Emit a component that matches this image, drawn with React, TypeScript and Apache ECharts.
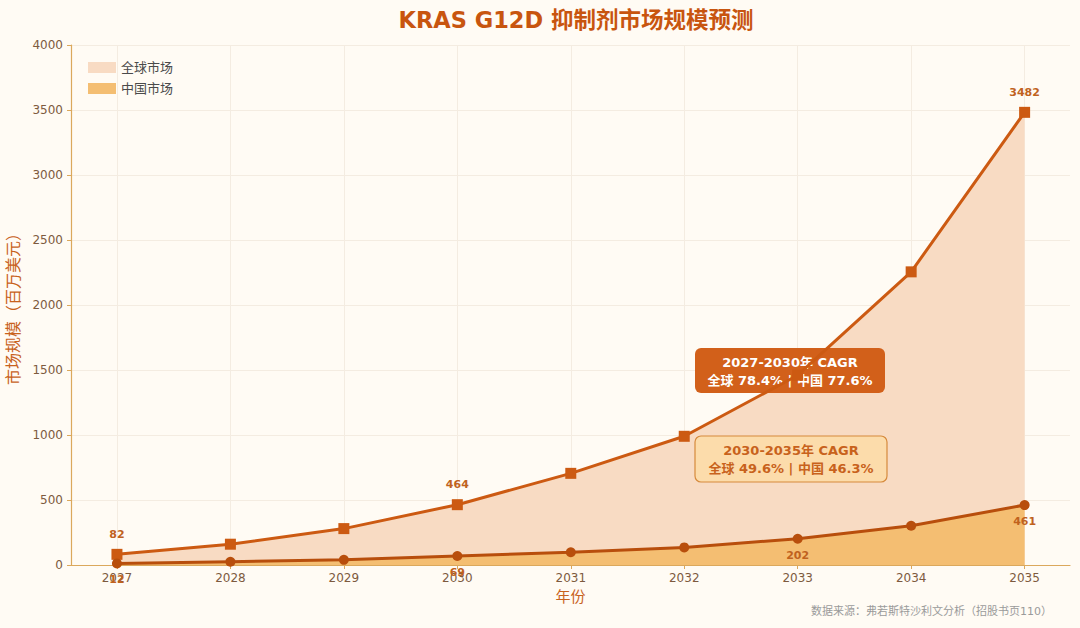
import React, { useEffect, useRef } from 'react';
import * as echarts from 'echarts';

// 年份与市场规模（百万美元）
const years = [2027, 2028, 2029, 2030, 2031, 2032, 2033, 2034, 2035];
const globalMarket = [82, 160, 280, 464, 705, 990, 1460, 2255, 3482];
const chinaMarket = [12, 25, 40, 69, 98, 135, 202, 302, 461];
const globalLabelYears = [2027, 2030, 2035];
const chinaLabelYears = [2027, 2030, 2033, 2035];

const cagrEarly = ['2027-2030年 CAGR', '全球 78.4% | 中国 77.6%'];
const cagrLate = ['2030-2035年 CAGR', '全球 49.6% | 中国 46.3%'];

const FONT = 'DejaVu Sans, "Noto Sans CJK SC", sans-serif';
const GLOBAL_LINE = '#cc5a12';
const CHINA_LINE = '#b84e0c';
const GLOBAL_FILL = '#f8dbc3';
const CHINA_FILL = '#f4be72';
const LABEL_COLOR = '#c0621e';
const TICK_COLOR = '#7d5a3e';
const AXIS_COLOR = '#dba85c';

const toPoints = (values: number[], labelled: number[], position: 'top' | 'bottom') =>
    values.map((v, i) => ({
        value: [years[i], v],
        label: {
            show: labelled.includes(years[i]),
            position,
            distance: position === 'top' ? 9 : 6,
            formatter: String(v),
            color: LABEL_COLOR,
            fontSize: 11,
            fontWeight: 'bold',
            fontFamily: FONT,
        },
    }));

const App: React.FC = () => {
    const chartRef = useRef<HTMLDivElement>(null);

    useEffect(() => {
        if (!chartRef.current) return;
        document.body.style.margin = '0';
        const chart = echarts.init(chartRef.current, undefined, { renderer: 'svg' });

        chart.setOption({
            animation: false,
            backgroundColor: '#fffbf4',
            title: {
                text: 'KRAS G12D 抑制剂市场规模预测',
                left: 571,
                textAlign: 'center',
                top: 4,
                textStyle: { color: '#c8550f', fontSize: 22.5, fontWeight: 'bold', fontFamily: FONT },
            },
            legend: {
                orient: 'vertical',
                left: 83,
                top: 56,
                icon: 'rect',
                itemWidth: 28,
                itemHeight: 11,
                itemGap: 8,
                textStyle: { color: '#4a4a4a', fontSize: 13, fontFamily: FONT },
                data: [
                    { name: '全球市场', itemStyle: { color: GLOBAL_FILL } },
                    { name: '中国市场', itemStyle: { color: CHINA_FILL } },
                ],
            },
            grid: { left: 71, right: 10, top: 45, bottom: 63, outerBoundsMode: 'none', containLabel: false },
            xAxis: {
                type: 'value',
                min: 2026.595,
                max: 2035.4,
                name: '年份',
                nameLocation: 'middle',
                nameGap: 24,
                nameTextStyle: { color: '#c8621c', fontSize: 15, fontFamily: FONT },
                axisLine: { lineStyle: { color: AXIS_COLOR, width: 1.2 } },
                axisTick: { show: true, length: 4, customValues: years, lineStyle: { color: AXIS_COLOR } },
                axisLabel: {
                    customValues: years,
                    color: TICK_COLOR,
                    fontSize: 12,
                    margin: 7,
                    fontFamily: FONT,
                    formatter: (v: number) => String(v),
                },
                splitLine: { show: true, lineStyle: { color: '#f4ece1', width: 1 } },
            },
            yAxis: {
                type: 'value',
                min: 0,
                max: 4000,
                interval: 500,
                name: '市场规模（百万美元）',
                nameLocation: 'middle',
                nameGap: 47,
                nameRotate: 90,
                nameTextStyle: { color: '#c8621c', fontSize: 16, fontFamily: FONT },
                axisLine: { show: true, lineStyle: { color: AXIS_COLOR, width: 1.2 } },
                axisTick: { show: true, length: 4, lineStyle: { color: AXIS_COLOR } },
                axisLabel: {
                    color: TICK_COLOR,
                    fontSize: 12,
                    margin: 8,
                    fontFamily: FONT,
                    formatter: (v: number) => String(v),
                },
                splitLine: { show: true, lineStyle: { color: '#f4ece1', width: 1 } },
            },
            series: [
                {
                    name: '全球市场',
                    type: 'line',
                    z: 1,
                    data: years.map((y, i) => [y, globalMarket[i]]),
                    showSymbol: false,
                    lineStyle: { width: 0 },
                    itemStyle: { color: GLOBAL_FILL },
                    areaStyle: { color: GLOBAL_FILL, opacity: 1 },
                    silent: true,
                },
                {
                    name: '中国市场',
                    type: 'line',
                    z: 1.5,
                    data: years.map((y, i) => [y, chinaMarket[i]]),
                    showSymbol: false,
                    lineStyle: { width: 0 },
                    itemStyle: { color: CHINA_FILL },
                    areaStyle: { color: CHINA_FILL, opacity: 1 },
                    silent: true,
                },
                {
                    name: 'global-line',
                    type: 'line',
                    z: 5,
                    data: toPoints(globalMarket, globalLabelYears, 'top'),
                    symbol: 'rect',
                    symbolSize: 11,
                    lineStyle: { color: GLOBAL_LINE, width: 3 },
                    itemStyle: { color: GLOBAL_LINE },
                },
                {
                    name: 'china-line',
                    type: 'line',
                    z: 5,
                    data: toPoints(chinaMarket, chinaLabelYears, 'bottom'),
                    symbol: 'circle',
                    symbolSize: 10,
                    lineStyle: { color: CHINA_LINE, width: 3 },
                    itemStyle: { color: CHINA_LINE },
                },
            ],
            graphic: [
                {
                    type: 'rect',
                    z: 3,
                    shape: { x: 695, y: 348, width: 190, height: 45, r: 6 },
                    style: { fill: '#d2601a' },
                },
                {
                    type: 'text',
                    z: 4,
                    style: {
                        text: cagrEarly.join('\n'),
                        x: 790,
                        y: 371,
                        align: 'center',
                        verticalAlign: 'middle',
                        fill: '#ffffff',
                        fontSize: 13,
                        fontWeight: 'bold',
                        fontFamily: FONT,
                        lineHeight: 18,
                    },
                },
                {
                    type: 'rect',
                    z: 3,
                    shape: { x: 695, y: 436, width: 192, height: 46, r: 6 },
                    style: { fill: '#fcdcab', stroke: '#d68a3c', lineWidth: 1.2 },
                },
                {
                    type: 'text',
                    z: 4,
                    style: {
                        text: cagrLate.join('\n'),
                        x: 791,
                        y: 459,
                        align: 'center',
                        verticalAlign: 'middle',
                        fill: '#c8621c',
                        fontSize: 13,
                        fontWeight: 'bold',
                        fontFamily: FONT,
                        lineHeight: 18,
                    },
                },
                {
                    type: 'text',
                    z: 4,
                    style: {
                        text: '数据来源：弗若斯特沙利文分析（招股书页110）',
                        x: 1052,
                        y: 611,
                        align: 'right',
                        verticalAlign: 'middle',
                        fill: '#9a9a9a',
                        fontSize: 11,
                        fontFamily: FONT,
                    },
                },
            ],
        });

        return () => chart.dispose();
    }, []);

    return <div ref={chartRef} style={{ width: 1080, height: 628 }} />;
};

export default App;
